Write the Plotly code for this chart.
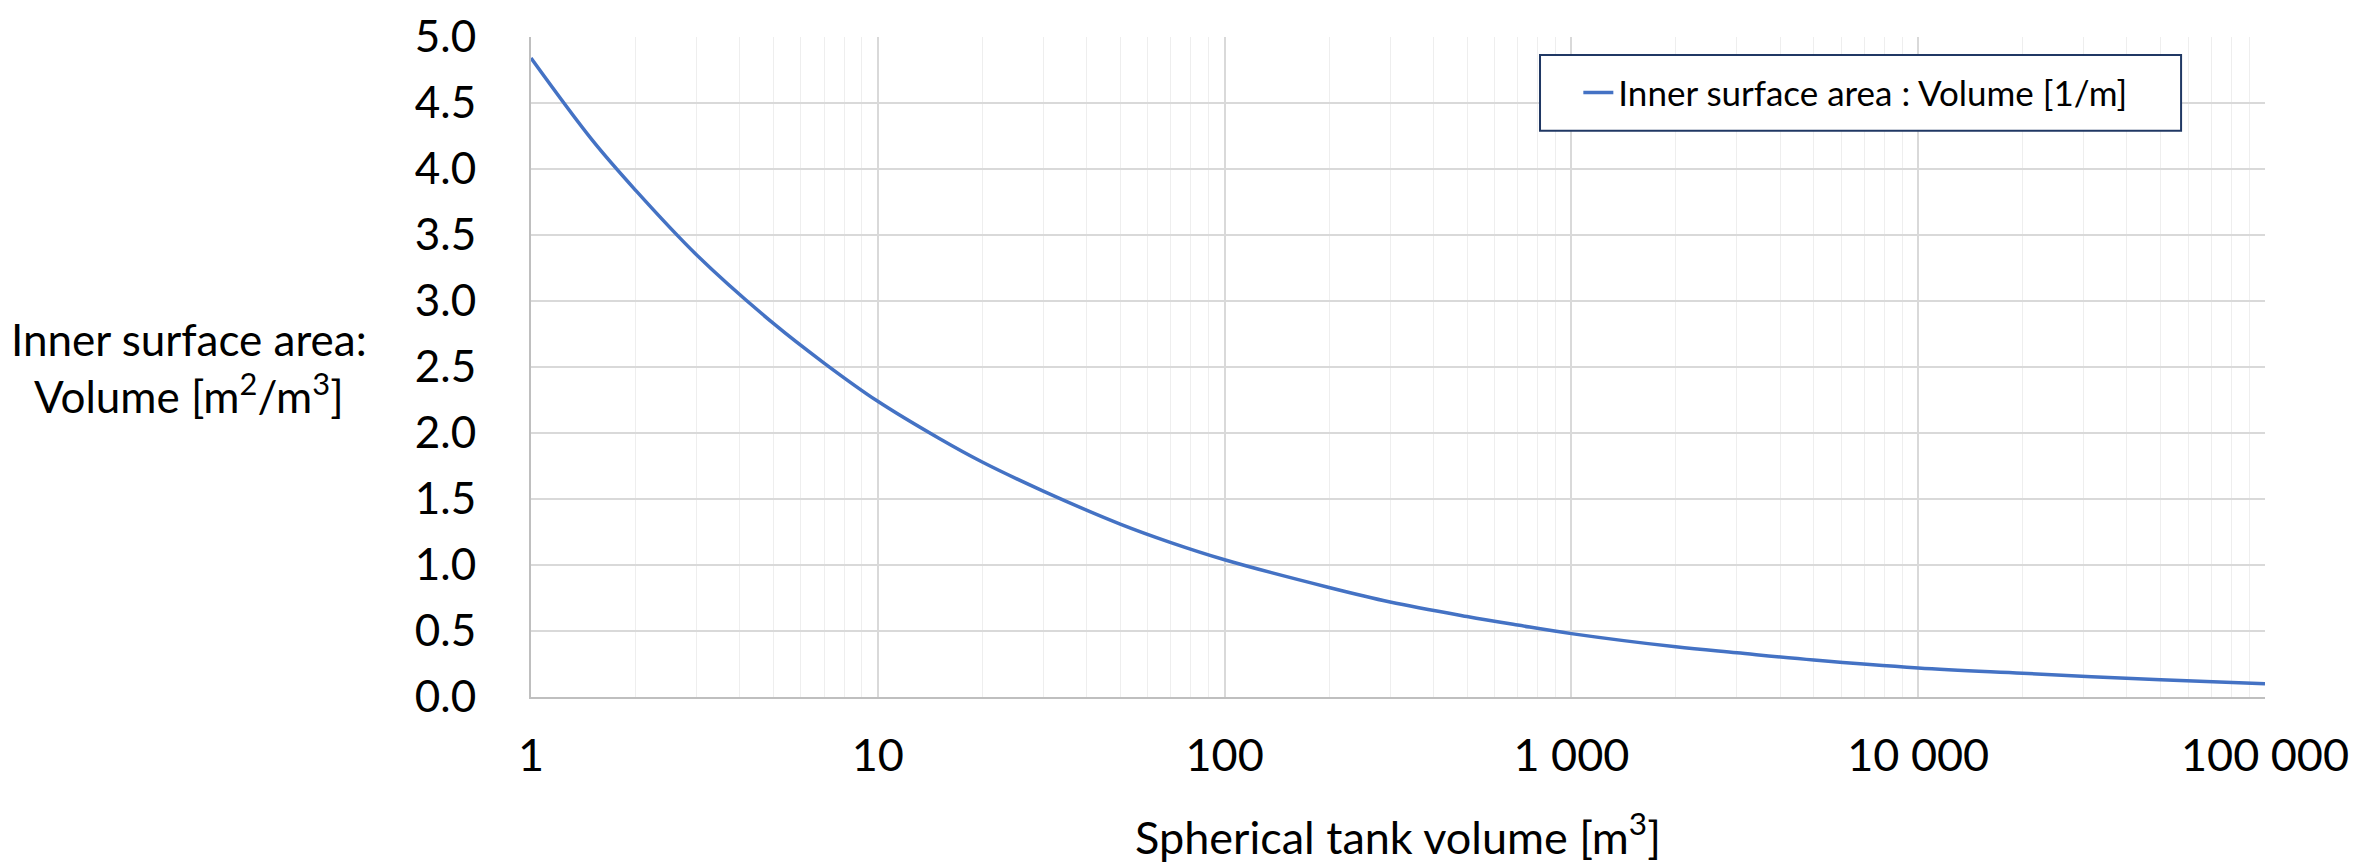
import plotly.graph_objects as go

# Data
volume_m3 = [1, 1.5, 2, 3, 5, 7, 10, 15, 20, 30, 50, 70, 100, 200, 300, 500, 700,
             1000, 2000, 3000, 5000, 10000, 20000, 50000, 100000]
surface_to_volume = [4.84, 4.22, 3.84, 3.35, 2.83, 2.53, 2.24, 1.96, 1.78, 1.56, 1.31, 1.17,
                     1.04, 0.83, 0.72, 0.61, 0.545, 0.48, 0.38, 0.335, 0.28, 0.22, 0.18,
                     0.13, 0.10]
series_name = "Inner surface area : Volume [1/m]"

x_tickvals = [1, 10, 100, 1000, 10000, 100000]
x_ticktext = ["1", "10", "100", "1 000", "10 000", "100 000"]
y_tickvals = [0, 0.5, 1, 1.5, 2, 2.5, 3, 3.5, 4, 4.5, 5]
y_ticktext = ["0.0", "0.5", "1.0", "1.5", "2.0", "2.5", "3.0", "3.5", "4.0", "4.5", "5.0"]

FONT = "Lato"
fig = go.Figure()
fig.add_trace(go.Scatter(
    x=volume_m3, y=surface_to_volume, mode="lines", name=series_name,
    line=dict(color="#4472C4", width=3.5, shape="spline"),
))

fig.update_layout(
    width=2364, height=864,
    margin=dict(l=523, r=107, t=29, b=175, autoexpand=False),
    paper_bgcolor="white", plot_bgcolor="white",
    font=dict(family=FONT, size=45, color="black"),
    showlegend=True,
    legend=dict(
        x=0.604, y=0.9155, xanchor="left", yanchor="middle",
        bgcolor="rgba(0,0,0,0)", borderwidth=0,
        font=dict(family=FONT, size=35, color="black"),
    ),
    xaxis=dict(
        type="log", range=[0, 5], automargin=False,
        tickvals=x_tickvals, ticktext=x_ticktext,
        tickfont=dict(family=FONT, size=45),
        showgrid=True, gridcolor="#D9D9D9", gridwidth=2,
        minor=dict(dtick="D1", showgrid=True, gridcolor="#EEEEEE", gridwidth=1, ticks=""),
        showline=True, linecolor="#BFBFBF", linewidth=2,
        ticks="", ticklabelstandoff=18, ticklabeloverflow="allow",
        zeroline=False,
        title=dict(text="Spherical tank volume [m<sup>3</sup>]", standoff=42,
                   font=dict(family=FONT, size=45)),
    ),
    yaxis=dict(
        range=[0, 5], tickvals=y_tickvals, ticktext=y_ticktext, automargin=False,
        tickfont=dict(family=FONT, size=44),
        showgrid=True, gridcolor="#D9D9D9", gridwidth=2,
        showline=True, linecolor="#BFBFBF", linewidth=2,
        ticks="", ticklabelstandoff=44, ticklabeloverflow="allow",
        zeroline=False,
    ),
    shapes=[dict(
        type="rect", xref="paper", yref="paper",
        x0=0.5819, x1=0.9516, y0=0.858, y1=0.9728,
        line=dict(color="#203864", width=2), fillcolor="white", layer="above",
    )],
    annotations=[dict(
        text="Inner surface area:<br>Volume [m<sup>2</sup>/m<sup>3</sup>]",
        xref="paper", yref="paper", x=-0.197, y=0.5,
        xanchor="center", yanchor="middle", showarrow=False,
        align="center", font=dict(family=FONT, size=44, color="black"),
    )],
)

fig.write_html("out.html")
